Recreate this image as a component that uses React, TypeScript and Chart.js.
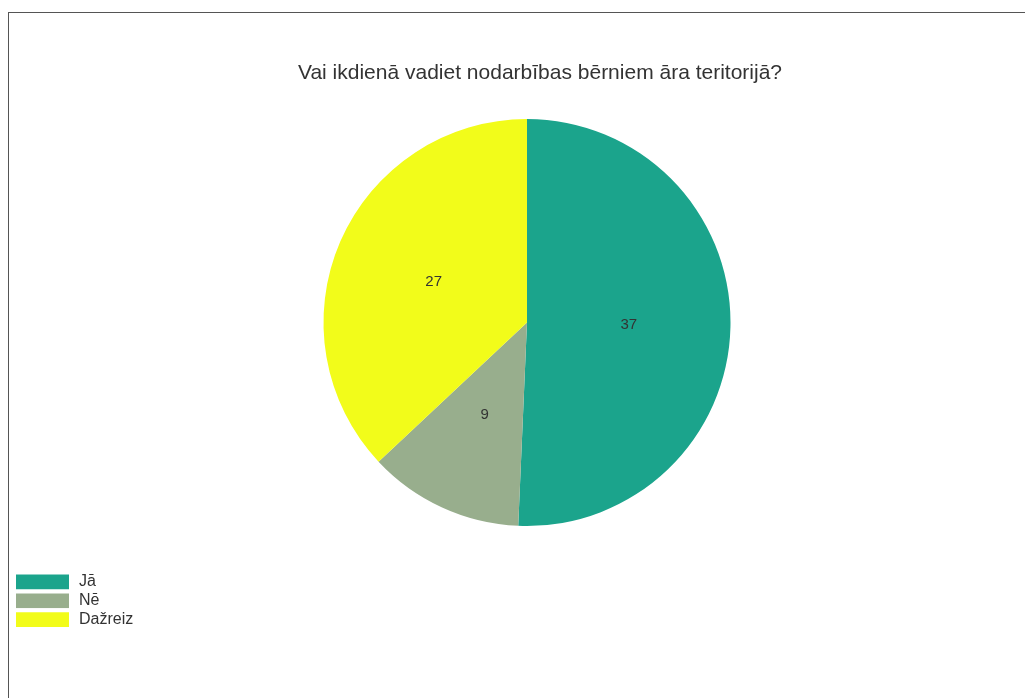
import { useEffect, useRef } from 'react';
import { Chart, registerables } from 'chart.js';

Chart.register(...registerables);

const chartTitle = 'Vai ikdienā vadiet nodarbības bērniem āra teritorijā?';
const categories = ['Jā', 'Nē', 'Dažreiz'];
const answerCounts = [37, 9, 27];
const sliceColors = ['#1ba48c', '#98ae8d', '#f2fc1a'];

const FONT = "'Liberation Sans', Arial, Helvetica, sans-serif";
const CANVAS_W = 1057;
const CANVAS_H = 685;

const valueLabels = {
  id: 'valueLabels',
  afterDatasetsDraw(chart: any) {
    const ctx = chart.ctx;
    const meta = chart.getDatasetMeta(0);
    const values = chart.data.datasets[0].data;
    ctx.save();
    ctx.font = `15px ${FONT}`;
    ctx.fillStyle = '#333333';
    ctx.textAlign = 'center';
    ctx.textBaseline = 'middle';
    meta.data.forEach((arc: any, i: number) => {
      const p = arc.tooltipPosition(false);
      ctx.fillText(String(values[i]), p.x, p.y);
    });
    ctx.restore();
  },
};

const legendToBottom = {
  id: 'legendToBottom',
  afterLayout(chart: any, _args: any, opts: any) {
    const lg = chart.legend;
    if (!lg) return;
    lg.bottom = opts.bottom;
    lg.height = lg.bottom - lg.top;
  },
};

export default function App() {
  const ref = useRef<HTMLCanvasElement>(null);
  useEffect(() => {
    document.documentElement.style.overflow = 'hidden';
    const chart = new Chart(ref.current as HTMLCanvasElement, {
      type: 'pie',
      data: {
        labels: categories,
        datasets: [
          {
            data: answerCounts,
            backgroundColor: sliceColors,
            borderWidth: 0,
            hoverBorderWidth: 0,
            hoverOffset: 0,
          },
        ],
      },
      options: {
        responsive: false,
        animation: false,
        devicePixelRatio: 1,
        events: [],
        layout: { padding: { left: 5, top: 0, right: 0, bottom: 172 } },
        plugins: {
          title: {
            display: true,
            text: chartTitle,
            color: '#333333',
            font: { size: 21, weight: 'normal', family: FONT, lineHeight: 1.2 },
            padding: { top: 48, bottom: 32.8 },
          },
          subtitle: {
            display: true,
            text: '',
            position: 'right',
            fullSize: false,
            font: { size: 20, lineHeight: 1.3 },
            padding: 0,
          },
          legend: {
            position: 'chartArea',
            align: 'end',
            labels: {
              boxWidth: 57,
              boxHeight: 18.8,
              padding: 0,
              color: '#333333',
              font: { size: 16, family: FONT },
              generateLabels: () =>
                categories.map((c, i) => ({
                  text: c,
                  fillStyle: sliceColors[i],
                  strokeStyle: '#ffffff',
                  lineWidth: 4,
                  fontColor: '#333333',
                  hidden: false,
                  index: i,
                })),
            },
          },
          tooltip: { enabled: false },
          legendToBottom: { bottom: 616 },
        } as any,
      },
      plugins: [valueLabels, legendToBottom],
    } as any);
    return () => chart.destroy();
  }, []);
  return (
    <div
      style={{
        marginTop: 4,
        borderLeft: '1px solid #555',
        borderTop: '1px solid #555',
        width: CANVAS_W,
        height: CANVAS_H,
      }}
    >
      <canvas ref={ref} width={CANVAS_W} height={CANVAS_H} style={{ display: 'block' }} />
    </div>
  );
}
